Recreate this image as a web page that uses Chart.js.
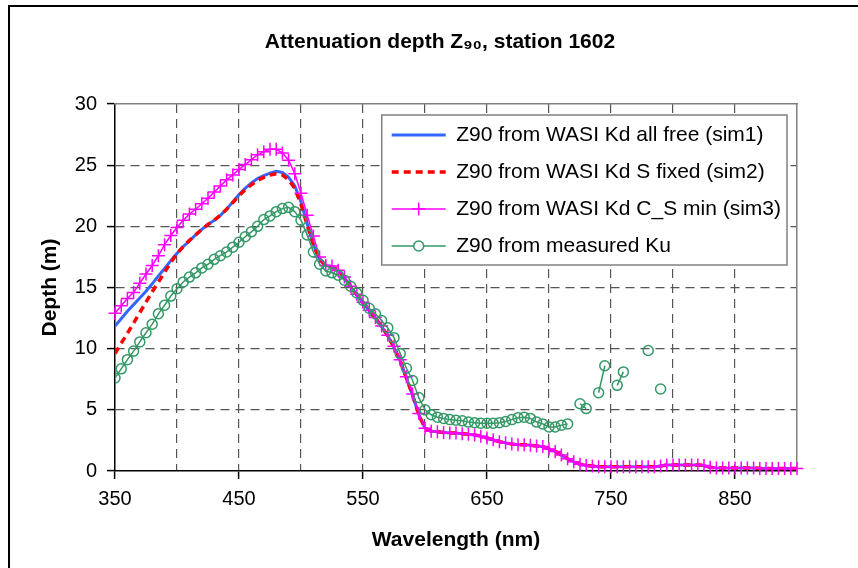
<!DOCTYPE html>
<html>
<head>
<meta charset="utf-8">
<script src="https://cdn.jsdelivr.net/npm/chart.js@4.4.1/dist/chart.umd.min.js"></script>
<style>
  html, body { margin: 0; padding: 0; background: #fff; overflow: hidden; }
  #frame { position: absolute; left: 8px; top: 5px; width: 1000px; height: 1000px;
           border-left: 2px solid #000; border-top: 2px solid #000; }
  #wrap { position: absolute; left: 0; top: 0; width: 858px; height: 568px; }
</style>
</head>
<body>
<div id="frame"></div>
<div id="wrap"><canvas id="chart" width="858" height="568"></canvas></div>
<script>
// Z90 attenuation depth vs wavelength, station 1602: three WASI simulations + measured Ku.

const FONT = "'Liberation Sans', Arial, sans-serif";
const GRID = '#555555';
const FRAME = '#808080';

const wavelengths = [
  350, 355, 360, 365, 370, 375, 380, 385, 390, 395,
  400, 405, 410, 415, 420, 425, 430, 435, 440, 445,
  450, 455, 460, 465, 470, 475, 480, 485, 490, 495,
  500, 505, 510, 515, 520, 525, 530, 535, 540, 545,
  550, 555, 560, 565, 570, 575, 580, 585, 590, 595,
  600, 605, 610, 615, 620, 625, 630, 635, 640, 645,
  650, 655, 660, 665, 670, 675, 680, 685, 690, 695,
  700, 705, 710, 715, 720, 725, 730, 735, 740, 745,
  750, 755, 760, 765, 770, 775, 780, 785, 790, 795,
  800, 805, 810, 815, 820, 825, 830, 835, 840, 845,
  850, 855, 860, 865, 870, 875, 880, 885, 890, 895,
  900
];

const seriesNames = [
  'Z90 from WASI Kd all free (sim1)',
  'Z90 from WASI Kd S fixed (sim2)',
  'Z90 from WASI Kd C_S min (sim3)',
  'Z90 from measured Ku'
];

const sim1 = [
  11.85, 12.45, 13.05, 13.6, 14.15, 14.7, 15.3, 15.95, 16.55, 17.2,
  17.8, 18.35, 18.8, 19.3, 19.75, 20.15, 20.5, 20.9, 21.4, 22.0,
  22.6, 23.1, 23.55, 23.9, 24.15, 24.35, 24.5, 24.4, 24.0, 23.3,
  22.0, 20.2, 18.5, 17.3, 16.8, 16.7, 16.4, 15.8, 15.1, 14.4,
  13.75, 13.1, 12.5, 11.8, 11.05, 10.1, 9.0, 7.6, 6.2, 4.6,
  3.5, 3.25, 3.2, 3.15, 3.1, 3.1, 3.05, 3.0, 2.95, 2.85,
  2.7, 2.55, 2.4, 2.3, 2.2, 2.15, 2.15, 2.1, 2.05, 2.0,
  1.8, 1.6, 1.3, 1.0, 0.75, 0.55, 0.45, 0.4, 0.35, 0.35,
  0.35, 0.35, 0.35, 0.35, 0.35, 0.35, 0.35, 0.35, 0.4, 0.5,
  0.5, 0.5, 0.5, 0.5, 0.5, 0.45, 0.3, 0.25, 0.25, 0.25,
  0.25, 0.25, 0.25, 0.25, 0.2, 0.2, 0.2, 0.2, 0.2, 0.2,
  0.2
];

const sim2 = [
  9.6, 10.45, 11.25, 12.1, 12.95, 13.8, 14.65, 15.45, 16.25, 17.05,
  17.75, 18.35, 18.85, 19.3, 19.75, 20.15, 20.5, 20.9, 21.4, 21.95,
  22.5, 23.0, 23.4, 23.75, 24.0, 24.2, 24.3, 24.2, 23.8, 23.1,
  21.8, 20.1, 18.5, 17.3, 16.8, 16.7, 16.4, 15.8, 15.1, 14.4,
  13.75, 13.1, 12.5, 11.8, 11.05, 10.1, 9.0, 7.6, 6.2, 4.6,
  3.5, 3.25, 3.2, 3.15, 3.1, 3.1, 3.05, 3.0, 2.95, 2.85,
  2.7, 2.55, 2.4, 2.3, 2.2, 2.15, 2.15, 2.1, 2.05, 2.0,
  1.8, 1.6, 1.3, 1.0, 0.75, 0.55, 0.45, 0.4, 0.35, 0.35,
  0.35, 0.35, 0.35, 0.35, 0.35, 0.35, 0.35, 0.35, 0.4, 0.5,
  0.5, 0.5, 0.5, 0.5, 0.5, 0.45, 0.3, 0.25, 0.25, 0.25,
  0.25, 0.25, 0.25, 0.25, 0.2, 0.2, 0.2, 0.2, 0.2, 0.2,
  0.2
];

const sim3 = [
  12.9, 13.5, 14.1, 14.6, 15.35, 16.1, 16.8, 17.6, 18.5, 19.25,
  19.9, 20.5, 21.0, 21.4, 21.85, 22.3, 22.8, 23.3, 23.8, 24.2,
  24.65, 25.05, 25.45, 25.85, 26.1, 26.3, 26.3, 26.0, 25.4, 24.3,
  22.7, 20.9, 19.2, 17.5, 16.8, 16.75, 16.4, 15.85, 15.1, 14.45,
  13.8, 13.15, 12.55, 11.85, 11.1, 10.2, 9.1, 7.7, 6.3, 4.7,
  3.5, 3.25, 3.2, 3.15, 3.1, 3.1, 3.05, 3.0, 2.95, 2.85,
  2.7, 2.55, 2.4, 2.3, 2.2, 2.15, 2.15, 2.1, 2.05, 2.0,
  1.8, 1.6, 1.3, 1.0, 0.75, 0.55, 0.45, 0.4, 0.35, 0.35,
  0.35, 0.35, 0.35, 0.35, 0.35, 0.35, 0.35, 0.35, 0.4, 0.5,
  0.5, 0.5, 0.5, 0.5, 0.5, 0.45, 0.3, 0.25, 0.25, 0.25,
  0.25, 0.25, 0.25, 0.25, 0.2, 0.2, 0.2, 0.2, 0.2, 0.2,
  0.2
];

// measured Ku: gaps (null) beyond ~715 nm where the measurement is noisy
const ku = [
  7.6, 8.35, 9.1, 9.8, 10.55, 11.3, 12.0, 12.85, 13.55, 14.3,
  14.9, 15.45, 15.85, 16.2, 16.6, 16.9, 17.3, 17.6, 17.9, 18.3,
  18.7, 19.15, 19.55, 20.0, 20.55, 20.85, 21.2, 21.45, 21.55, 21.2,
  20.5, 19.3, 17.9, 16.9, 16.35, 16.2, 16.0, 15.6, 15.1, 14.55,
  13.95, 13.3, 12.85, 12.3, 11.7, 10.9, 9.6, 8.4, 7.4, 6.0,
  5.0, 4.6, 4.4, 4.3, 4.2, 4.15, 4.1, 4.0, 3.95, 3.9,
  3.9, 3.9, 3.95, 4.05, 4.2, 4.35, 4.4, 4.3, 4.0, 3.85,
  3.6, 3.6, 3.75, 3.85, null, 5.5, 5.1, null, 6.4, 8.6,
  null, 7.0, 8.1, null, null, null, 9.85, null, 6.7, null,
  null, null, null, null, null, null, null, null, null, null,
  null, null, null, null, null, null, null, null, null, null,
  null
];

const toPoints = (vals) => wavelengths.map((x, i) => ({ x, y: vals[i] }));

// grid line hidden on the axis edges (axis line / frame sit there)
const edgeClear = (lo, hi, color) => (c) =>
  (c.tick && (c.tick.value === lo || c.tick.value === hi)) ? 'rgba(0,0,0,0)' : color;

// Legend sits inside the plot, top right, in a white box; markers added on the sample lines.
const legendBox = {
  id: 'legendBox',
  afterLayout(chart) {
    const lg = chart.legend;
    if (!lg || !lg.legendHitBoxes || !lg.legendHitBoxes.length) return;
    const area = chart.chartArea;
    const lab = lg.options.labels;
    const pad = lab.padding;
    const fs = lab.font.size;
    const maxW = Math.max(...lg.legendHitBoxes.map((h) => h.width));
    const right = area.right - 10;
    const top = area.top + 11;
    const left = right - 6 - maxW - 10;
    lg._frame = { left, top, w: right - left, h: 150 };
    lg.left = left + 10 - pad;
    lg.top = top + 20 - pad - fs / 2;
    lg.right = right + 4;
    lg.bottom = top + 200;
    lg.width = lg.right - lg.left;
    lg.height = lg.bottom - lg.top;

    if (!lg._wrapped) {
      const orig = lg.draw;
      lg.draw = function (ca) {
        const ctx = this.ctx;
        const f = this._frame;
        ctx.save();
        ctx.fillStyle = '#fff';
        ctx.strokeStyle = FRAME;
        ctx.lineWidth = 1.5;
        ctx.fillRect(f.left, f.top, f.w, f.h);
        ctx.strokeRect(f.left, f.top, f.w, f.h);
        ctx.restore();
        orig.call(this, ca);
        const bw = this.options.labels.pointStyleWidth;
        const half = this.options.labels.font.size / 2;
        this.legendHitBoxes.forEach((hb, i) => {
          const ds = chart.data.datasets[this.legendItems[i].datasetIndex];
          if (!ds.pointRadius) return;
          ctx.save();
          ctx.strokeStyle = ds.pointBorderColor;
          ctx.fillStyle = '#fff';
          ctx.lineWidth = ds.pointBorderWidth;
          Chart.helpers.drawPoint(ctx, {
            pointStyle: ds.pointStyle, radius: ds.pointRadius,
            borderWidth: ds.pointBorderWidth, rotation: 0
          }, hb.left + bw / 2, hb.top + half);
          ctx.restore();
        });
      };
      lg._wrapped = true;
    }
  }
};

new Chart(document.getElementById('chart'), {
  type: 'line',
  data: {
    datasets: [
      {
        label: seriesNames[0], data: toPoints(sim1),
        borderColor: '#3366FF', backgroundColor: '#3366FF',
        borderWidth: 3, pointRadius: 0, order: 4
      },
      {
        label: seriesNames[1], data: toPoints(sim2),
        borderColor: '#FF0000', backgroundColor: '#FF0000',
        borderWidth: 3.5, borderDash: [7, 5], pointRadius: 0, order: 3
      },
      {
        label: seriesNames[2], data: toPoints(sim3),
        borderColor: '#FF00FF', backgroundColor: '#FF00FF', borderWidth: 1.5,
        pointStyle: 'cross', pointRadius: 6.5, pointBorderColor: '#FF00FF',
        pointBorderWidth: 1.5, order: 2, clip: false
      },
      {
        label: seriesNames[3], data: toPoints(ku),
        borderColor: '#339966', backgroundColor: '#339966', borderWidth: 1.5,
        pointStyle: 'circle', pointRadius: 5, pointBorderColor: '#339966',
        pointBackgroundColor: 'rgba(0,0,0,0)', pointBorderWidth: 1.5, order: 1
      }
    ]
  },
  options: {
    responsive: false,
    animation: false,
    devicePixelRatio: 1,
    events: [],
    layout: { padding: { left: 22, right: 0, top: 0, bottom: 0 } },
    plugins: {
      tooltip: { enabled: false },
      title: {
        display: true,
        text: 'Attenuation depth Z₉₀, station 1602',
        color: '#000',
        font: { family: FONT, size: 21, weight: 'bold' },
        padding: { top: 29.4, bottom: 49.4 }
      },
      legend: {
        position: 'chartArea',
        align: 'start',
        labels: {
          usePointStyle: true,
          pointStyleWidth: 54,
          boxHeight: 21,
          padding: 16,
          color: '#000',
          font: { family: FONT, size: 21 },
          generateLabels: (chart) => chart.data.datasets.map((ds, i) => ({
            text: ds.label,
            datasetIndex: i,
            fillStyle: 'rgba(0,0,0,0)',
            strokeStyle: ds.borderColor,
            lineWidth: ds.borderWidth,
            lineDash: ds.borderDash || [],
            pointStyle: 'line',
            rotation: 0,
            hidden: false,
            fontColor: '#000'
          }))
        }
      }
    },
    scales: {
      x: {
        type: 'linear',
        position: 'bottom',
        min: 350,
        max: 900,
        afterFit: (s) => { s.height = 97; },
        ticks: {
          stepSize: 50, autoSkip: false, maxRotation: 0, padding: 8,
          color: '#000', font: { family: FONT, size: 20 },
          callback: (v) => (v % 100 === 50 ? String(v) : '')
        },
        grid: {
          color: edgeClear(350, 900, GRID), lineWidth: 1.2,
          tickLength: 8, tickWidth: 1.5,
          tickColor: (c) => (c.tick && c.tick.value % 100 === 50 ? '#000' : 'rgba(0,0,0,0)')
        },
        border: { color: '#000', width: 1.5, dash: [9, 6] },
        title: {
          display: true, text: 'Wavelength (nm)', color: '#000',
          font: { family: FONT, size: 21, weight: 'bold' },
          padding: { top: 0, bottom: 15.4 }
        }
      },
      y: {
        type: 'linear',
        position: 'left',
        min: 0,
        max: 30,
        afterFit: (s) => { s.width = 93; },
        ticks: { stepSize: 5, padding: 10, color: '#000', font: { family: FONT, size: 20 } },
        grid: {
          color: edgeClear(0, 30, GRID), lineWidth: 1.2,
          tickLength: 8, tickWidth: 1.5, tickColor: '#000'
        },
        border: { color: '#000', width: 1.5, dash: [9, 6] },
        title: {
          display: true, text: 'Depth (m)', color: '#000',
          font: { family: FONT, size: 21, weight: 'bold' },
          padding: { top: 15.4, bottom: 0 }
        }
      },
      x2: {
        type: 'linear', position: 'top', min: 350, max: 900,
        afterFit: (s) => { s.height = 0; },
        ticks: { display: false }, grid: { display: false },
        border: { color: FRAME, width: 1.5 }
      },
      y2: {
        type: 'linear', position: 'right', min: 0, max: 30,
        afterFit: (s) => { s.width = 61; },
        ticks: { display: false }, grid: { display: false },
        border: { color: FRAME, width: 1.5 }
      }
    }
  },
  plugins: [legendBox]
});
</script>
</body>
</html>
